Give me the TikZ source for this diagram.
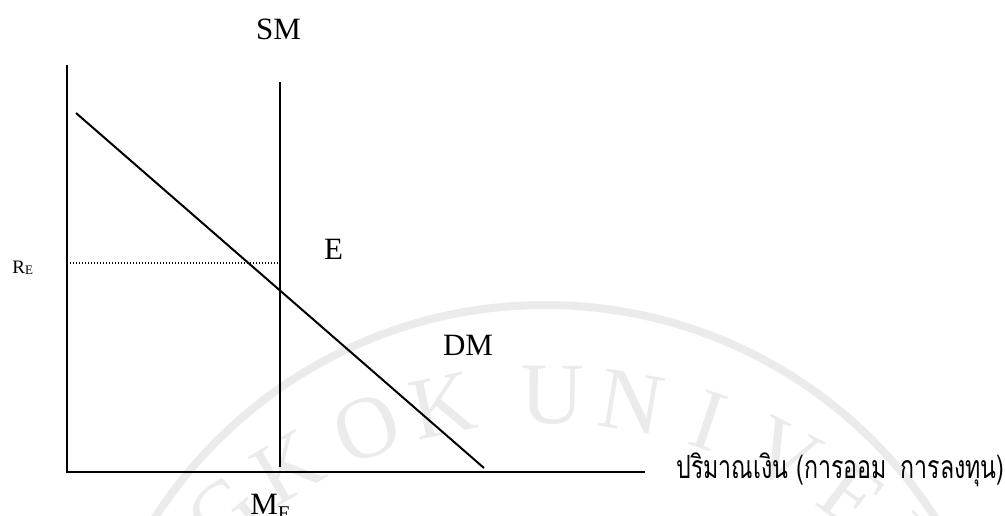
\documentclass[tikz,border=0pt]{standalone}
\usepackage{fontspec}
\setmainfont{Liberation Serif}
\newfontfamily\thaifont[Script=Thai]{Loma}
\definecolor{wmgray}{gray}{0.92}
\begin{document}
\begin{tikzpicture}[x=0.5pt,y=-0.5pt,
  axisline/.style={line width=1pt,black},
  curveline/.style={line width=1pt,black},
  guideline/.style={line width=0.6pt,black,dash pattern=on 0.6pt off 0.9pt},
  lbl/.style={inner sep=0pt,font=\fontsize{15.5}{18}\selectfont},
  wm/.style={inner sep=0pt,text=wmgray,font=\fontsize{44}{48}\selectfont}]
\useasboundingbox (0,0) rectangle (1005,515);
% watermark
\begin{scope}
\clip (0,0) rectangle (1005,515);
\draw[wmgray,line width=4pt] (545,769) circle[radius=464];
\foreach \ch/\a [count=\i] in {A/149,N/139,G/130,K/121,O/111,K/102,U/89.5,N/80.5,I/71.5,V/62,E/53,R/44,S/35}
  \node[wm,rotate=\a-90] (wm\i) at ({548+505*cos(\a)},{900-505*sin(\a)}) {\ch};
\end{scope}
% coordinates
\coordinate (o) at (67,472);
\coordinate (ytop) at (67,65);
\coordinate (xend) at (645,472);
\coordinate (smtop) at (280,82);
\coordinate (smbot) at (280,467);
\coordinate (dmtop) at (76,113);
\coordinate (dmbot) at (484,468);
\coordinate (rel) at (67,263);
\coordinate (rer) at (279,263);
% lines
\draw[axisline] (ytop) -- (o) -- (xend);
\draw[curveline] (smtop) -- (smbot);
\draw[curveline] (dmtop) -- (dmbot);
\draw[guideline] (rel) -- (rer);
% labels
\node[lbl,anchor=base] (sm) at (278.5,39) {SM};
\node[lbl,anchor=base] (e) at (333.5,259) {E};
\node[lbl,anchor=base] (dm) at (468,355) {DM};
\node[inner sep=0pt,anchor=base west] (re) at (12,273) {\fontsize{9.5}{11}\selectfont R\raisebox{-0.5pt}{\fontsize{6.5}{8}\selectfont E}};
\node[inner sep=0pt,anchor=base west] (me) at (250,514) {\fontsize{15.5}{18}\selectfont M\raisebox{-3pt}{\fontsize{10.5}{12}\selectfont E}};
\node[inner sep=0pt,anchor=base west] (qty) at (676,478) {\resizebox{164pt}{\height}{\thaifont\fontsize{16}{18}\selectfont ปริมาณเงิน (การออม\hspace{0.6em}การลงทุน)}};
\end{tikzpicture}
\end{document}
